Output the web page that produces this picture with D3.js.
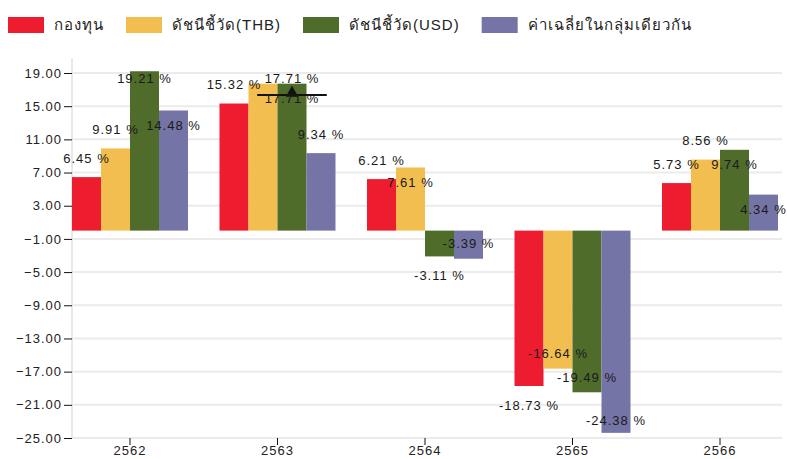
<!DOCTYPE html>
<html>
<head>
<meta charset="utf-8">
<script src="https://cdn.jsdelivr.net/npm/d3@7"></script>
<style>
    body { margin: 0; background: #fff; }
    text { font-family: Arial, "Liberation Sans", sans-serif; }
</style>
</head>
<body>
<div id="chart"></div>
<script>
const years = ['2562', '2563', '2564', '2565', '2566']
const seriesNames = ['กองทุน', 'ดัชนีชี้วัด(THB)', 'ดัชนีชี้วัด(USD)', 'ค่าเฉลี่ยในกลุ่มเดียวกัน']
const fund = [6.45, 15.32, 6.21, -18.73, 5.73]
const benchTHB = [9.91, 17.71, 7.61, -16.64, 8.56]
const benchUSD = [19.21, 17.71, -3.11, -19.49, 9.74]
const peerAvg = [14.48, 9.34, -3.39, -24.38, 4.34]
// odd marker drawn on the USD bar in 2563
const marker = [null, 16.35, null, null, null]
const yTicks = [19, 15, 11, 7, 3, -1, -5, -9, -13, -17, -21, -25]
const colors = ['#ed1c2e', '#f3be50', '#4f6c2b', '#7574a6']

const series = [fund, benchTHB, benchUSD, peerAvg].map((values, i) => ({ name: seriesNames[i], values, color: colors[i] }))

const width = 787, height = 459
const plot = { left: 72, right: 778, top: 58, bottom: 438, gridEnd: 782 }

const svg = d3.select('#chart').append('svg')
    .attr('width', width)
    .attr('height', height)

const x = d3.scaleBand()
    .domain(years)
    .range([plot.left, plot.right])
    .paddingInner(0.2136)
    .paddingOuter(0)

const x1 = d3.scaleBand()
    .domain(d3.range(series.length))
    .range([0, x.bandwidth()])

const y = d3.scaleLinear()
    .domain([-25, 19])
    .range([plot.bottom, 73])

// grid
svg.append('g')
    .selectAll('line')
    .data(yTicks)
    .join('line')
    .attr('x1', plot.left)
    .attr('x2', plot.gridEnd)
    .attr('y1', d => y(d))
    .attr('y2', d => y(d))
    .attr('stroke', '#ebebeb')
    .attr('stroke-width', 2)

svg.append('line')
    .attr('x1', plot.left).attr('x2', plot.left)
    .attr('y1', plot.top).attr('y2', plot.bottom)
    .attr('stroke', '#e2e2e2')
    .attr('stroke-width', 1.5)

const axisText = g => g.selectAll('text')
    .attr('font-size', 13)
    .attr('letter-spacing', 1)
    .attr('fill', '#222')
    .style('font-family', 'Arial, sans-serif')

// y axis
svg.append('g')
    .attr('transform', `translate(${plot.left},0)`)
    .call(d3.axisLeft(y).tickValues(yTicks).tickFormat(d3.format('.2f')).tickSize(8).tickPadding(2))
    .call(g => g.select('.domain').remove())
    .call(g => g.selectAll('line').attr('stroke', '#111'))
    .call(axisText)

// x axis
svg.append('g')
    .attr('transform', `translate(0,${plot.bottom})`)
    .call(d3.axisBottom(x).tickSize(7).tickPadding(1))
    .call(g => g.select('.domain').remove())
    .call(g => g.selectAll('line').attr('stroke', '#111'))
    .call(axisText)

// bars
svg.append('g')
    .selectAll('g')
    .data(series)
    .join('g')
    .attr('fill', d => d.color)
    .selectAll('rect')
    .data((s, si) => s.values.map((v, ci) => ({ v, si, year: years[ci] })))
    .join('rect')
    .attr('x', d => x(d.year) + x1(d.si))
    .attr('width', x1.bandwidth())
    .attr('y', d => y(Math.max(0, d.v)))
    .attr('height', d => Math.abs(y(d.v) - y(0)))

// marker
const mk = svg.append('g')
marker.forEach((v, ci) => {
    if (v === null) return
    const cx = x(years[ci]) + x1(2) + x1.bandwidth() / 2
    const half = x1.bandwidth() * 1.2
    mk.append('line')
        .attr('x1', cx - half).attr('x2', cx + half)
        .attr('y1', y(v)).attr('y2', y(v))
        .attr('stroke', '#111')
        .attr('stroke-width', 2)
    mk.append('path')
        .attr('d', d3.symbol(d3.symbolTriangle, 70)())
        .attr('transform', `translate(${cx},${y(v) - 2})`)
        .attr('fill', '#111')
})

// value labels: outside the bar end, inside when crowded, nudged right as last resort
const fmt = v => `${v.toFixed(2)} %`
const labels = svg.append('g')
const labTop = y(19) + 5, labBottom = plot.bottom - 18
years.forEach((yr, ci) => {
    const placed = []
    series.forEach((s, si) => {
        const v = s.values[ci]
        const cx = x(yr) + x1(si) + x1.bandwidth() / 2
        const end = y(v)
        const dir = v >= 0 ? -1 : 1
        const t = labels.append('text')
            .text(fmt(v))
            .attr('text-anchor', 'middle')
            .attr('dy', '0.35em')
            .attr('font-size', 13)
            .attr('letter-spacing', 1)
            .attr('fill', '#1a1a1a')
        const w = t.node().getComputedTextLength()
        const hits = (lx, ly) => placed.some(b => Math.abs(b.x - lx) < (b.w + w) / 2 + 2 && Math.abs(b.y - ly) < 18.5)
        let lx = cx
        let ly = Math.max(labTop, Math.min(labBottom, end + dir * 19))
        if (hits(lx, ly)) {
            const inside = end - dir * 15
            if (!hits(lx, inside)) ly = inside
            else while (hits(lx, ly)) lx += x1.bandwidth() / 2
        }
        placed.push({ x: lx, y: ly, w })
        t.attr('x', lx).attr('y', ly)
    })
})

// legend
const legend = svg.append('g')
let legX = 8
series.forEach(s => {
    const g = legend.append('g').attr('transform', `translate(${legX},17)`)
    g.append('rect')
        .attr('width', 36)
        .attr('height', 16)
        .attr('fill', s.color)
    const t = g.append('text')
        .attr('x', 46)
        .attr('y', 8)
        .attr('dy', '0.35em')
        .attr('font-size', 15)
        .attr('letter-spacing', 1)
        .attr('fill', '#222')
        .text(s.name)
    legX += 46 + t.node().getComputedTextLength() + 22
})
</script>
</body>
</html>
